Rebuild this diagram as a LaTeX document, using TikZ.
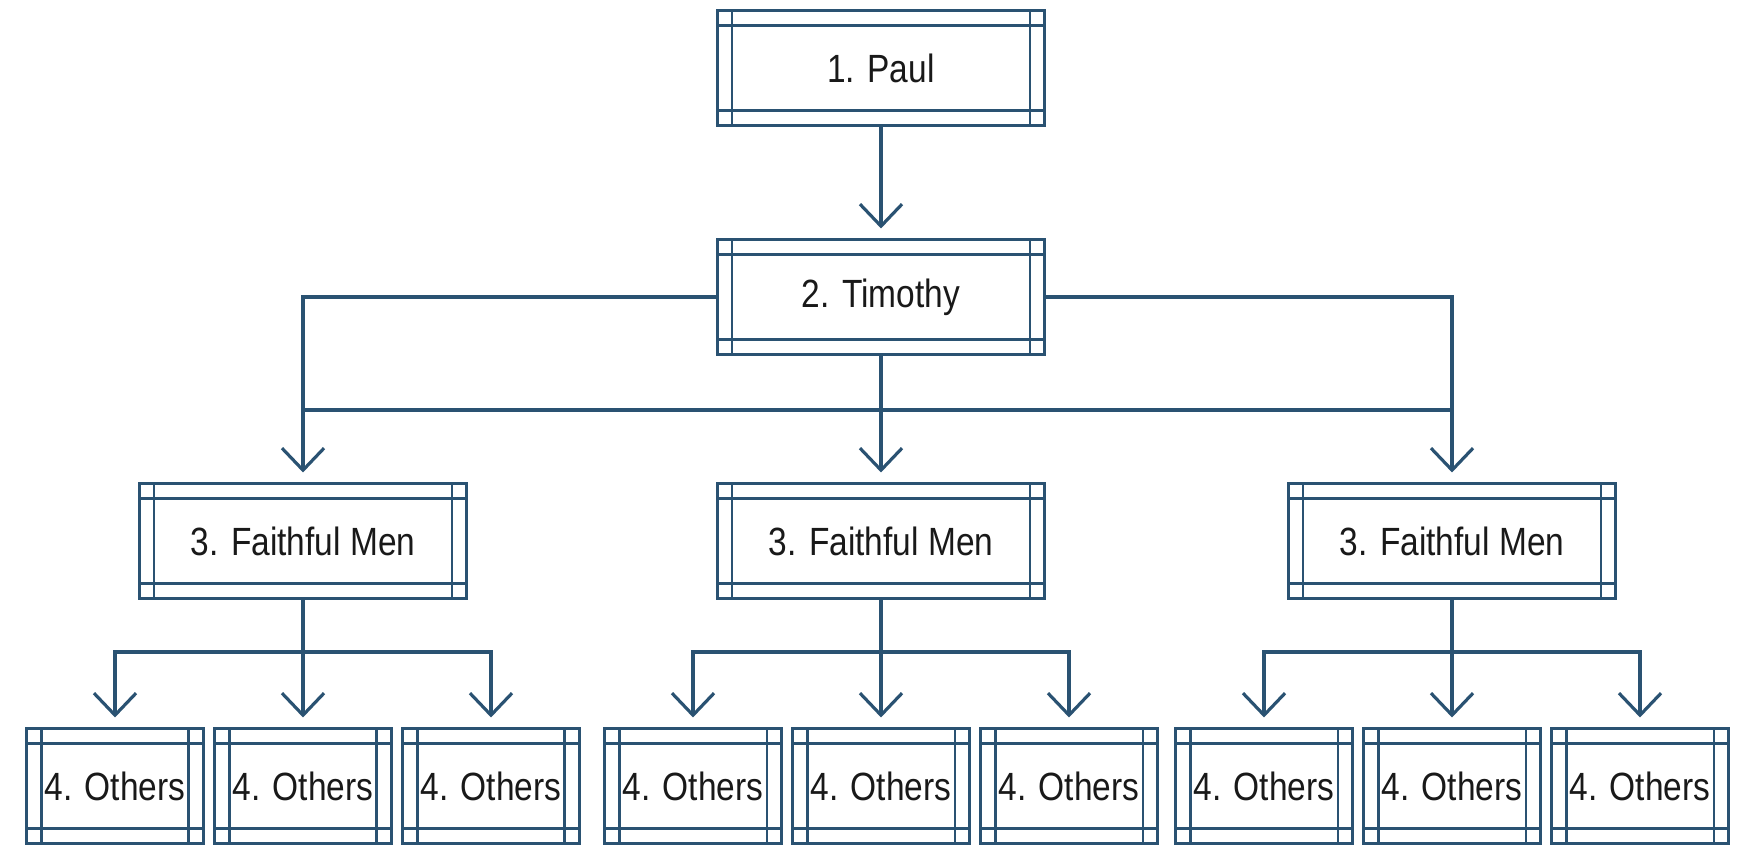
\documentclass[tikz,border=0pt]{standalone}
\usepackage{fontspec}
\setmainfont[FakeStretch=0.85]{Liberation Sans}
\usetikzlibrary{positioning,arrows.meta}

\definecolor{boxblue}{RGB}{42,82,114}
\definecolor{textgray}{RGB}{25,25,25}

\tikzset{
  px/.style={x=0.01cm,y=-0.01cm},
  panel/.style={draw=boxblue, line width=1pt, fill=white, text=textgray,
    font=\fontsize{11.2}{13}\selectfont, minimum height=1.15cm, inner sep=0pt, outer sep=0pt,
    path picture={
      \draw[boxblue, line width=0.6pt]
        ([yshift=-0.15cm]path picture bounding box.north west) -- ([yshift=-0.15cm]path picture bounding box.north east)
        ([yshift=0.15cm]path picture bounding box.south west) -- ([yshift=0.15cm]path picture bounding box.south east)
        ([xshift=0.15cm]path picture bounding box.north west) -- ([xshift=0.15cm]path picture bounding box.south west)
        ([xshift=-0.15cm]path picture bounding box.north east) -- ([xshift=-0.15cm]path picture bounding box.south east);
    }},
  wide/.style={panel, minimum width=3.27cm},
  narrow/.style={panel, minimum width=1.77cm},
  link/.style={draw=boxblue, line width=0.9pt},
  tip/.style={link, -{Straight Barb[length=0.22cm, width=0.42cm]}, shorten >=0.11cm},
}

\begin{document}
\begin{tikzpicture}[px]
  \useasboundingbox[fill=white] (0,0) rectangle (1737,845);

  % leaders
  \node[wide] (paul) at (881,68) {1. Paul};
  \node[wide] (timothy) at (881,297) {2. Timothy};
  \node[wide] (men1) at (303,541) {3. Faithful Men};
  \node[wide] (men2) at (881,541) {3. Faithful Men};
  \node[wide] (men3) at (1452,541) {3. Faithful Men};

  % others
  \foreach \g/\x in {1/303,2/881,3/1452} {
    \node[narrow] (oth\g-1) at (\x-188,786) {4. Others};
    \node[narrow] (oth\g-2) at (\x,786) {4. Others};
    \node[narrow] (oth\g-3) at (\x+188,786) {4. Others};
  }

  % connectors
  \draw[tip] (paul) -- (timothy);
  \draw[tip] (timothy) -- (men2);
  \draw[tip] (timothy.west) -| (men1);
  \draw[tip] (timothy.east) -| (men3);
  \coordinate (tbus) at (881,410);
  \draw[link] (men1.north |- tbus) -- (men3.north |- tbus);

  \foreach \g in {1,2,3} {
    \coordinate (bus\g) at (men\g.south |- 0,652);
    \draw[tip] (men\g) -- (oth\g-2);
    \draw[tip] (bus\g) -| (oth\g-1);
    \draw[tip] (bus\g) -| (oth\g-3);
  }

\end{tikzpicture}
\end{document}
